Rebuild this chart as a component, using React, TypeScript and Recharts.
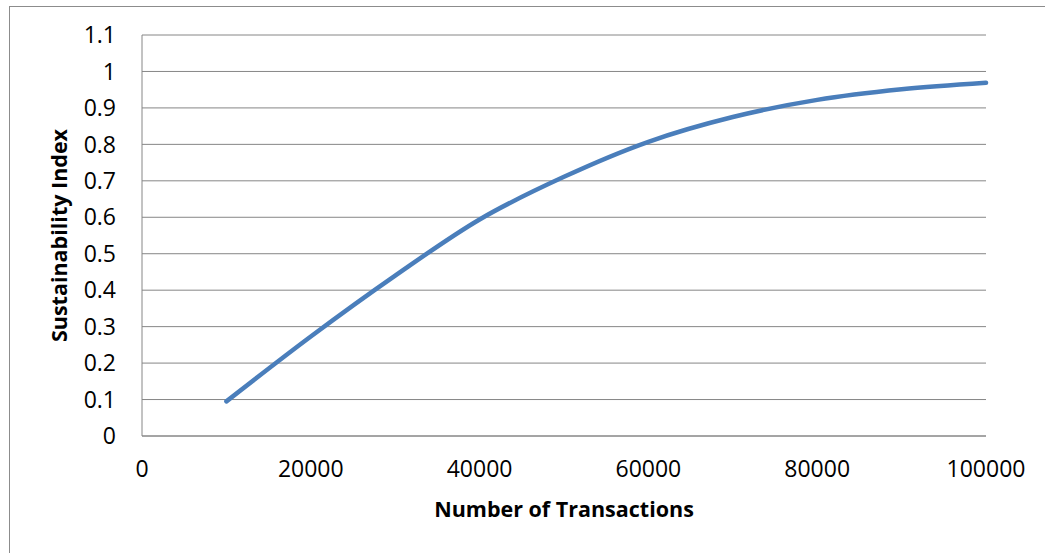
import { LineChart, Line, XAxis, YAxis, CartesianGrid } from 'recharts';

// transactions vs. sustainability index
const transactions = [10000, 20000, 30000, 40000, 50000, 60000, 70000, 80000, 90000, 100000];
const sustainability = [0.095, 0.273, 0.44, 0.594, 0.711, 0.807, 0.875, 0.922, 0.951, 0.969];

const xTicks = [0, 20000, 40000, 60000, 80000, 100000];
const yTicks = [0, 0.1, 0.2, 0.3, 0.4, 0.5, 0.6, 0.7, 0.8, 0.9, 1, 1.1];

const data = transactions.map((t, i) => ({ t, index: sustainability[i] }));

const font = '"Open Sans", "Noto Sans", sans-serif';
const gridColor = '#868686';

export default function App() {
  return (
    <div style={{ position: 'absolute', left: 0, top: 0, width: 1045, height: 553, overflow: 'hidden', background: '#fff' }}>
      <div
        style={{
          position: 'absolute',
          left: 9,
          top: 6,
          width: 1060,
          height: 570,
          border: '1px solid #8c8c8c',
        }}
      />
      <div style={{ position: 'absolute', left: 0, top: 0 }}>
        <LineChart
          width={1045}
          height={553}
          data={data}
          margin={{ top: 35, right: 59, left: 0, bottom: 17 }}
          style={{ fontFamily: font }}
        >
          <CartesianGrid vertical={false} stroke={gridColor} strokeWidth={1} />
          <XAxis
            dataKey="t"
            type="number"
            domain={[0, 100000]}
            ticks={xTicks}
            height={100}
            tickSize={0}
            tickMargin={25}
            stroke={gridColor}
            tick={{ fill: '#000', fontSize: 23, fontFamily: font }}
            label={{
              value: 'Number of Transactions',
              position: 'insideBottom',
              offset: 19,
              style: { fill: '#000', fontSize: 21.5, fontWeight: 700, fontFamily: font },
            }}
          />
          <YAxis
            type="number"
            domain={[0, 1.1]}
            ticks={yTicks}
            width={142}
            tickSize={0}
            tickMargin={26}
            stroke={gridColor}
            tick={{ fill: '#000', fontSize: 23, fontFamily: font }}
            label={{
              value: 'Sustainability Index',
              angle: -90,
              position: 'insideLeft',
              offset: 59,
              style: { fill: '#000', fontSize: 21.5, fontWeight: 700, fontFamily: font, textAnchor: 'middle' },
            }}
          />
          <Line
            type="monotone"
            dataKey="index"
            stroke="#4a7ebb"
            strokeWidth={4.5}
            strokeLinecap="round"
            dot={false}
            isAnimationActive={false}
          />
        </LineChart>
      </div>
    </div>
  );
}
